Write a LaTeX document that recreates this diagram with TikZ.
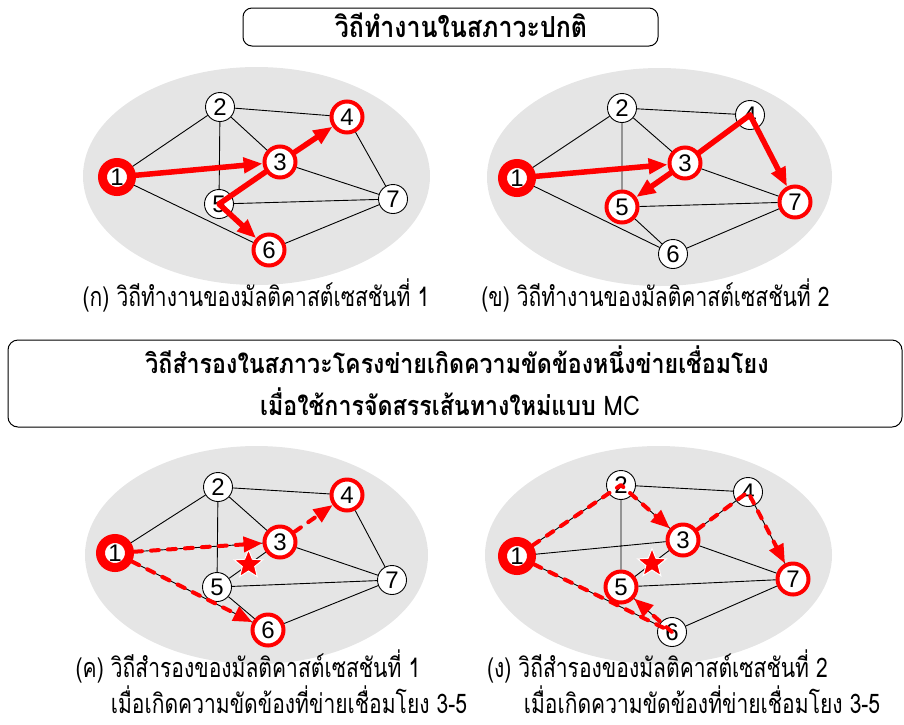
\documentclass[tikz,border=0pt]{standalone}
\usepackage{fontspec}
\setmainfont{Liberation Sans}
\newfontfamily\thaicap[Script=Thai,FakeStretch=0.78]{Loma}
\newfontfamily\thaittl[Script=Thai,FakeStretch=0.86]{Loma}
\usetikzlibrary{arrows.meta,shapes.geometric,calc}
\definecolor{bggray}{RGB}{229,229,229}
\definecolor{netred}{RGB}{255,0,0}
\tikzset{
  bgell/.style={fill=bggray,draw=none},
  nd/.style={circle,draw=black,fill=white,line width=0.9pt,minimum size=29pt,inner sep=0pt,font=\fontsize{24}{24}\selectfont},
  rnd/.style={nd,draw=netred,line width=4pt,minimum size=31pt},
  srcnd/.style={nd,draw=netred,line width=9pt,minimum size=29pt},
  edge/.style={line width=0.9pt},
  rtip/.style={-{Triangle[length=19pt,width=15pt]}},
  rline/.style={draw=netred,line width=5.5pt,line cap=round,line join=round},
  rdash/.style={draw=netred,line width=4pt,line cap=round,line join=round,dash pattern=on 8pt off 9pt},
  flt/.style={star,star points=5,star point ratio=2.3,fill=netred,draw=white,line width=1pt,minimum size=30pt,inner sep=0pt},
  titlebox/.style={draw=black,line width=1pt,rounded corners=9pt,fill=white},
  captext/.style={font=\thaicap\fontsize{27}{27}\selectfont,inner sep=0pt,text depth=0pt},
  ttl/.style={font=\thaittl\bfseries\fontsize{27}{27}\selectfont,inner sep=0pt}
}
\begin{document}
\begin{tikzpicture}[x=1pt,y=-1pt]
\useasboundingbox (0,0) rectangle (904,724);
% backgrounds
\fill[bgell] (256.5,176) ellipse [x radius=173.5,y radius=109];
\fill[bgell] (659.5,177) ellipse [x radius=172.5,y radius=109];
\fill[bgell] (256.5,555) ellipse [x radius=171.5,y radius=109];
\fill[bgell] (658.5,555) ellipse [x radius=173.5,y radius=109];

% ---------- Graph A ----------
\node[srcnd] (a1) at (117,177) {1};
\node[nd] (a2) at (220,107) {2};
\node[rnd] (a3) at (280,162) {3};
\node[rnd] (a4) at (347,117) {4};
\node[nd] (a5) at (219,204) {5};
\node[rnd] (a6) at (269,250) {6};
\node[nd] (a7) at (393,199) {7};
\draw[edge] (a1)--(a2) (a1)--(a6) (a2)--(a4) (a2)--(a3) (a2)--(a5) (a3)--(a7) (a4)--(a7) (a5)--(a7) (a6)--(a7);
\draw[rline,rtip] (a1) -- (a3);
\draw[rline,rtip] (a3) -- (a4);
\draw[rline,rtip] (a3) -- (a5.center) -- (a6);

% ---------- Graph B ----------
\node[srcnd] (b1) at (517,178) {1};
\node[nd] (b2) at (622,108) {2};
\node[rnd] (b3) at (685,163) {3};
\node[nd] (b4) at (750,115) {4};
\node[rnd] (b5) at (622,207) {5};
\node[nd] (b6) at (673,254) {6};
\node[rnd] (b7) at (795,202) {7};
\draw[edge] (b1)--(b2) (b1)--(b6) (b2)--(b4) (b2)--(b3) (b2)--(b5) (b3)--(b7) (b5)--(b7) (b5)--(b6) (b6)--(b7);
\draw[rline,rtip] (b1) -- (b3);
\draw[rline] (b4.center) -- (b3);
\draw[rline,rtip] (b3) -- (b5);
\draw[rline,rtip] (b4.center) -- (b7);

% ---------- Graph C ----------
\node[srcnd] (c1) at (115,553) {1};
\node[nd] (c2) at (218,487) {2};
\node[rnd] (c3) at (280,542) {3};
\node[rnd] (c4) at (347,495) {4};
\node[nd] (c5) at (217,587) {5};
\node[rnd] (c6) at (268,630) {6};
\node[nd] (c7) at (392,580) {7};
\draw[edge] (c1)--(c2) (c1)--(c3) (c1)--(c6) (c2)--(c4) (c2)--(c3) (c2)--(c5) (c3)--(c5) (c3)--(c7) (c4)--(c7) (c5)--(c7) (c5)--(c6) (c6)--(c7);
\node[flt] (cf) at ($(c3)!0.5!(c5)$) {};
\draw[rdash,rtip] (c1) -- (c3);
\draw[rdash,rtip] (c3) -- (c4);
\draw[rdash,rtip] (c1) -- (c6);

% ---------- Graph D ----------
\node[srcnd] (d1) at (517,556) {1};
\node[nd] (d2) at (621,485) {2};
\node[rnd] (d3) at (683,540) {3};
\node[nd] (d4) at (748,492) {4};
\node[rnd] (d5) at (621,587) {5};
\node[nd] (d6) at (672,632) {6};
\node[rnd] (d7) at (793,579) {7};
\draw[edge] (d1)--(d2) (d1)--(d3) (d1)--(d6) (d2)--(d4) (d2)--(d3) (d2)--(d5) (d3)--(d5) (d3)--(d4) (d3)--(d7) (d4)--(d7) (d5)--(d7) (d5)--(d6) (d6)--(d7);
\node[flt] (df) at ($(d3)!0.5!(d5)$) {};
\draw[rdash,rtip] (d1) -- (d2.center) -- (d3);
\draw[rdash,rtip] (d3) -- (d4.center) -- (d7);
\draw[rdash,rtip] (d1) -- (d6.center) -- (d5);

% ---------- titles ----------
\node[titlebox,minimum width=415pt,minimum height=38pt] (t1) at (450.5,27) {};
\node[ttl,anchor=base,font=\thaittl\bfseries\fontsize{29}{29}\selectfont] (t1txt) at (461,37) {วิถีทำงานในสภาวะปกติ};
\node[titlebox,minimum width=894pt,minimum height=87pt,rounded corners=10pt] (t2) at (455,383.5) {};
\node[ttl,anchor=base] (t2a) at (457,373) {วิถีสำรองในสภาวะโครงข่ายเกิดความขัดข้องหนึ่งข่ายเชื่อมโยง};
\node[ttl,anchor=base] (t2b) at (450,415) {เมื่อใช้การจัดสรรเส้นทางใหม่แบบ \mdseries MC};

% ---------- captions ----------
\node[captext,anchor=base] (ca) at (256,306) {(ก) วิถีทำงานของมัลติคาสต์เซสชันที่ 1};
\node[captext,anchor=base] (cb) at (655.5,306) {(ข) วิถีทำงานของมัลติคาสต์เซสชันที่ 2};
\node[captext,anchor=base] (cc1) at (248,677) {(ค) วิถีสำรองของมัลติคาสต์เซสชันที่ 1};
\node[captext,anchor=base] (cc2) at (289,713) {เมื่อเกิดความขัดข้องที่ข่ายเชื่อมโยง 3-5};
\node[captext,anchor=base] (cd1) at (657.5,677) {(ง) วิถีสำรองของมัลติคาสต์เซสชันที่ 2};
\node[captext,anchor=base] (cd2) at (702,713) {เมื่อเกิดความขัดข้องที่ข่ายเชื่อมโยง 3-5};
\end{tikzpicture}
\end{document}
